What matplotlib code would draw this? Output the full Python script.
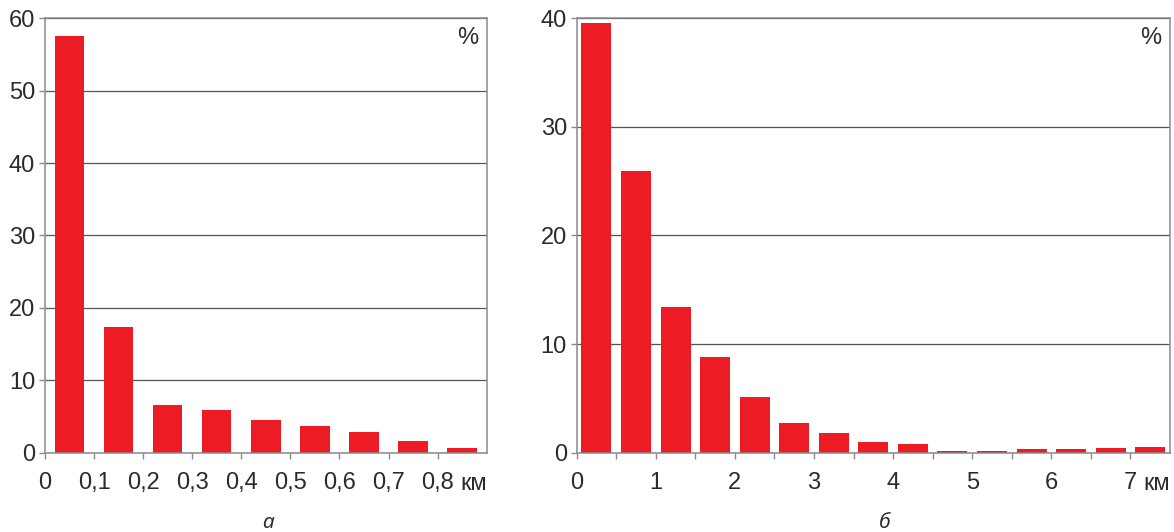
import matplotlib
matplotlib.use("Agg")
import matplotlib.pyplot as plt
from matplotlib.ticker import FixedLocator

# distribution of distances, % of total
left_centers = [0.05, 0.15, 0.25, 0.35, 0.45, 0.55, 0.65, 0.75, 0.85]
left_values = [57.6, 17.4, 6.6, 5.9, 4.5, 3.7, 2.8, 1.6, 0.6]
left_ticks = [0, 0.1, 0.2, 0.3, 0.4, 0.5, 0.6, 0.7, 0.8]
left_labels = ["0", "0,1", "0,2", "0,3", "0,4", "0,5", "0,6", "0,7", "0,8"]

right_centers = [0.25, 0.75, 1.25, 1.75, 2.25, 2.75, 3.25, 3.75,
                 4.25, 4.75, 5.25, 5.75, 6.25, 6.75, 7.25]
right_values = [39.6, 25.9, 13.4, 8.8, 5.1, 2.7, 1.8, 1.0,
                0.8, 0.15, 0.15, 0.3, 0.3, 0.4, 0.55]
right_ticks = [0, 1, 2, 3, 4, 5, 6, 7]
right_minor = [0.5, 1.5, 2.5, 3.5, 4.5, 5.5, 6.5]
right_labels = ["0", "1", "2", "3", "4", "5", "6", "7"]

BAR = "#ed1c24"
SPINE = "#8a8a8a"
GRID = "#555555"
TEXT = "#2b2b2b"

plt.rcParams['font.family'] = ['Liberation Sans', 'DejaVu Sans']

fig = plt.figure(figsize=(11.74, 5.32), dpi=100)
ax1 = fig.add_axes([0.0383, 0.1491, 0.3763, 0.8165])
ax2 = fig.add_axes([0.4912, 0.1491, 0.5054, 0.8165])


def style(ax, ymax, xmax):
    ax.set_axisbelow(True)
    ax.set_ylim(0, ymax)
    ax.set_xlim(0, xmax)
    ax.set_yticks(range(0, ymax + 1, 10))
    ax.yaxis.grid(True, color=GRID, linewidth=0.9)
    for s in ax.spines.values():
        s.set_color(SPINE)
        s.set_linewidth(1.1)
    ax.tick_params(axis='both', which='both', direction='out', length=4,
                   width=1.0, color=SPINE, labelsize=17, labelcolor=TEXT)
    ax.tick_params(axis='y', pad=3)
    ax.tick_params(axis='x', pad=10)
    ax.annotate("%", xy=(1, 1), xycoords='axes fraction', xytext=(-6, -6),
                textcoords='offset points', ha='right', va='top',
                fontsize=17, color=TEXT)
    ax.annotate("км", xy=(1, 0), xycoords='axes fraction', xytext=(0, -27),
                textcoords='offset points', ha='right', va='baseline',
                fontsize=17, color=TEXT)


ax1.bar(left_centers, left_values, width=0.06, color=BAR, edgecolor='none')
style(ax1, 60, 0.9)
ax1.set_xticks(left_ticks)
ax1.set_xticklabels(left_labels)

ax2.bar(right_centers, right_values, width=0.38, color=BAR, edgecolor='none')
style(ax2, 40, 7.5)
ax2.set_xticks(right_ticks)
ax2.set_xticklabels(right_labels)
ax2.xaxis.set_minor_locator(FixedLocator(right_minor))

fig.text(268 / 1174, 1 - 523 / 532, "а", ha='center', va='center',
         fontsize=15, style='italic', color=TEXT,
         family=['Noto Sans', 'DejaVu Sans'])
fig.text(885 / 1174, 1 - 523 / 532, "б", ha='center', va='center',
         fontsize=15, style='italic', color=TEXT,
         family=['Noto Sans', 'DejaVu Sans'])

fig.savefig("out.png", dpi=100)
